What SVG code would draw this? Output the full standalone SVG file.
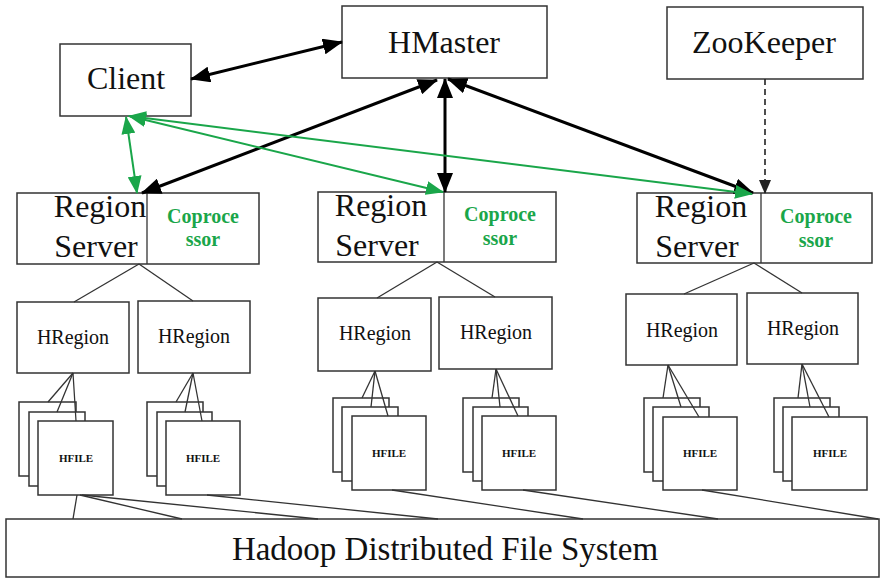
<svg xmlns="http://www.w3.org/2000/svg" width="880" height="578" viewBox="0 0 880 578">
<style>
.box{fill:#fff;stroke:#333;stroke-width:1.5}
.big{font-family:"Liberation Serif","Times New Roman",serif;font-size:32px;fill:#111;text-anchor:middle}
.hr{font-family:"Liberation Serif","Times New Roman",serif;font-size:20px;fill:#111;text-anchor:middle}
.cop{font-family:"Liberation Serif","Times New Roman",serif;font-size:20px;font-weight:bold;fill:#1aa64a;text-anchor:middle}
.hf{font-family:"Liberation Serif","Times New Roman",serif;font-size:11px;font-weight:bold;fill:#111;text-anchor:middle}
.thin{stroke:#333;stroke-width:1.3;fill:none}
.blk{stroke:#000;stroke-width:3;fill:none}
.grn{stroke:#1aa64a;stroke-width:2;fill:none}
.dash{stroke:#222;stroke-width:1.6;stroke-dasharray:6,4;fill:none}
</style>
<defs>
<marker id="ab" markerUnits="userSpaceOnUse" markerWidth="20" markerHeight="16" refX="19" refY="8" orient="auto-start-reverse">
<path d="M0,0 L20,8 L0,16 z" fill="#000"/>
</marker>
<marker id="ag" markerUnits="userSpaceOnUse" markerWidth="18" markerHeight="14" refX="17" refY="7" orient="auto-start-reverse">
<path d="M0,0 L18,7 L0,14 z" fill="#1aa64a"/>
</marker>
<marker id="ad" markerUnits="userSpaceOnUse" markerWidth="14" markerHeight="12" refX="13" refY="6" orient="auto">
<path d="M0,0 L14,6 L0,12 z" fill="#222"/>
</marker>
</defs>

<g id="client"><rect class="box" x="60" y="44" width="131" height="72"/><text class="big" x="126" y="89">Client</text></g>
<g id="hmaster"><rect class="box" x="342" y="6" width="205" height="72"/><text class="big" x="444" y="53">HMaster</text></g>
<g id="zookeeper"><rect class="box" x="667" y="7" width="196" height="72"/><text class="big" x="764" y="53">ZooKeeper</text></g>

<g id="rs1"><rect class="box" x="17" y="193" width="242" height="71"/><line class="thin" x1="147" y1="193" x2="147" y2="264"/>
<text class="big" x="100" y="217">Region</text><text class="big" x="96" y="257">Server</text>
<text class="cop" x="203" y="223">Coproce</text><text class="cop" x="203" y="246">ssor</text></g>
<g id="rs2"><rect class="box" x="318" y="192" width="238" height="70"/><line class="thin" x1="444" y1="192" x2="444" y2="262"/>
<text class="big" x="381" y="216">Region</text><text class="big" x="377" y="256">Server</text>
<text class="cop" x="500" y="221">Coproce</text><text class="cop" x="500" y="245">ssor</text></g>
<g id="rs3"><rect class="box" x="637" y="193" width="235" height="70"/><line class="thin" x1="761" y1="193" x2="761" y2="263"/>
<text class="big" x="701" y="217">Region</text><text class="big" x="697" y="257">Server</text>
<text class="cop" x="816" y="223">Coproce</text><text class="cop" x="816" y="247">ssor</text></g>

<g id="hr1"><rect class="box" x="17" y="302" width="112" height="71"/><text class="hr" x="73" y="344">HRegion</text></g>
<g id="hr2"><rect class="box" x="138" y="301" width="112" height="72"/><text class="hr" x="194" y="343">HRegion</text></g>
<g id="hr3"><rect class="box" x="318" y="298" width="113" height="73"/><text class="hr" x="375" y="340">HRegion</text></g>
<g id="hr4"><rect class="box" x="439" y="297" width="113" height="72"/><text class="hr" x="496" y="339">HRegion</text></g>
<g id="hr5"><rect class="box" x="626" y="294" width="111" height="71"/><text class="hr" x="682" y="337">HRegion</text></g>
<g id="hr6"><rect class="box" x="747" y="293" width="111" height="71"/><text class="hr" x="803" y="335">HRegion</text></g>

<g id="hfile1"><rect class="box" x="19" y="402" width="57" height="74"/><rect class="box" x="29" y="412" width="56" height="74"/><rect class="box" x="38" y="421" width="75" height="74"/><text class="hf" x="76" y="462">HFILE</text></g>
<g id="hfile2"><rect class="box" x="147" y="402" width="56" height="74"/><rect class="box" x="157" y="412" width="55" height="74"/><rect class="box" x="166" y="421" width="74" height="74"/><text class="hf" x="203" y="462">HFILE</text></g>
<g id="hfile3"><rect class="box" x="333" y="398" width="56" height="74"/><rect class="box" x="342" y="407" width="56" height="74"/><rect class="box" x="352" y="416" width="74" height="74"/><text class="hf" x="389" y="457">HFILE</text></g>
<g id="hfile4"><rect class="box" x="463" y="398" width="56" height="74"/><rect class="box" x="473" y="407" width="55" height="74"/><rect class="box" x="482" y="416" width="74" height="74"/><text class="hf" x="519" y="457">HFILE</text></g>
<g id="hfile5"><rect class="box" x="644" y="398" width="56" height="74"/><rect class="box" x="653" y="407" width="56" height="74"/><rect class="box" x="663" y="417" width="74" height="73"/><text class="hf" x="700" y="457">HFILE</text></g>
<g id="hfile6"><rect class="box" x="774" y="398" width="56" height="74"/><rect class="box" x="783" y="407" width="56" height="74"/><rect class="box" x="792" y="417" width="75" height="73"/><text class="hf" x="830" y="457">HFILE</text></g>

<g id="hdfs"><rect class="box" x="6" y="519" width="873" height="58"/><text class="big" x="445" y="560" style="font-size:33px">Hadoop Distributed File System</text></g>

<g id="connectors">
<line class="thin" x1="139" y1="264" x2="74" y2="302"/><line class="thin" x1="139" y1="264" x2="193" y2="301"/>
<line class="thin" x1="437" y1="262" x2="377" y2="298"/><line class="thin" x1="437" y1="262" x2="495" y2="297"/>
<line class="thin" x1="754" y1="263" x2="684" y2="294"/><line class="thin" x1="754" y1="263" x2="802" y2="293"/>

<line class="thin" x1="73" y1="373" x2="48" y2="402"/><line class="thin" x1="73" y1="373" x2="57" y2="412"/><line class="thin" x1="73" y1="373" x2="76" y2="421"/>
<line class="thin" x1="193" y1="373" x2="176" y2="402"/><line class="thin" x1="193" y1="373" x2="185" y2="412"/><line class="thin" x1="193" y1="373" x2="202" y2="421"/>
<line class="thin" x1="375" y1="371" x2="362" y2="398"/><line class="thin" x1="375" y1="371" x2="371" y2="407"/><line class="thin" x1="375" y1="371" x2="388" y2="416"/>
<line class="thin" x1="496" y1="369" x2="492" y2="398"/><line class="thin" x1="496" y1="369" x2="500" y2="407"/><line class="thin" x1="496" y1="369" x2="518" y2="416"/>
<line class="thin" x1="668" y1="365" x2="663" y2="398"/><line class="thin" x1="668" y1="365" x2="681" y2="407"/><line class="thin" x1="668" y1="365" x2="699" y2="417"/>
<line class="thin" x1="802" y1="364" x2="798" y2="398"/><line class="thin" x1="802" y1="364" x2="810" y2="407"/><line class="thin" x1="802" y1="364" x2="829" y2="417"/>

<line class="thin" x1="77" y1="495" x2="73" y2="519"/><line class="thin" x1="80" y1="495" x2="182" y2="519"/><line class="thin" x1="82" y1="495" x2="318" y2="519"/>
<line class="thin" x1="207" y1="495" x2="438" y2="519"/>
<line class="thin" x1="392" y1="490" x2="583" y2="519"/>
<line class="thin" x1="523" y1="490" x2="718" y2="519"/>
<line class="thin" x1="702" y1="490" x2="878" y2="519"/>

<line class="blk" x1="191" y1="79" x2="342" y2="42" marker-start="url(#ab)" marker-end="url(#ab)"/>
<line class="blk" x1="437" y1="80" x2="142" y2="193" marker-start="url(#ab)" marker-end="url(#ab)"/>
<line class="blk" x1="445" y1="79" x2="445" y2="192" marker-start="url(#ab)" marker-end="url(#ab)"/>
<line class="blk" x1="448" y1="79" x2="753" y2="193" marker-start="url(#ab)" marker-end="url(#ab)"/>
<line class="dash" x1="765" y1="79" x2="765" y2="193" marker-end="url(#ad)"/>

<line class="grn" x1="126" y1="117" x2="137" y2="193" marker-start="url(#ag)" marker-end="url(#ag)"/>
<line class="grn" x1="129" y1="116" x2="443" y2="192" marker-start="url(#ag)" marker-end="url(#ag)"/>
<line class="grn" x1="129" y1="116" x2="752" y2="194" marker-start="url(#ag)" marker-end="url(#ag)"/>
</g>
</svg>
